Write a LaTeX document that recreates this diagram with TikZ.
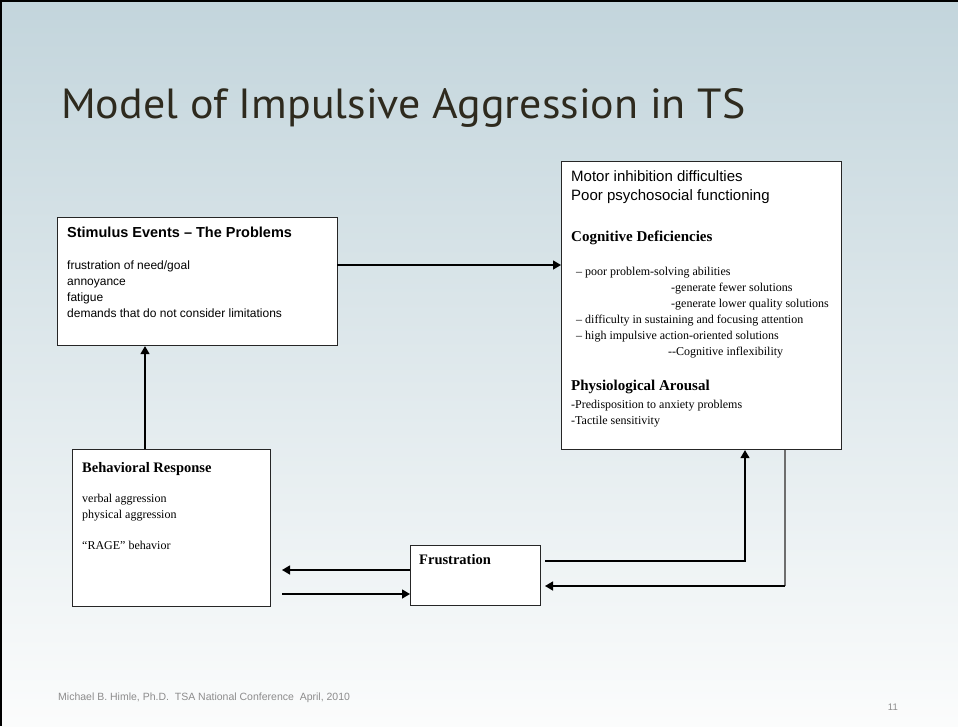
\documentclass[tikz,border=0pt]{standalone}
\usepackage{fontspec}
\setmainfont{Liberation Serif}
\newfontfamily\arialf{Liberation Sans}
\newfontfamily\titlef{PT Sans}
\usetikzlibrary{arrows.meta}
\definecolor{bgtop}{HTML}{C3D5DC}
\definecolor{bgbot}{HTML}{FBFCFC}
\definecolor{titlecol}{HTML}{2E2A1E}
\definecolor{footcol}{HTML}{8C8C8C}
\definecolor{edgegray}{HTML}{6E6E6E}
\tikzset{
  panel/.style={draw=black!85, line width=1.1pt, fill=white, inner sep=0pt, anchor=north west},
  link/.style={line width=1.4pt, draw=black},
  tip/.style={-{Triangle[length=8pt,width=9pt]}},
  txt/.style={anchor=base west, inner sep=0pt, text=black},
  sanshead/.style={txt, font=\arialf\bfseries\fontsize{14.5}{17}\selectfont},
  sansline/.style={txt, font=\arialf\fontsize{12}{14}\selectfont},
  sansbig/.style={txt, font=\arialf\fontsize{15}{18}\selectfont},
  serifhead/.style={txt, font=\bfseries\fontsize{15}{18}\selectfont},
  serifsub/.style={txt, font=\bfseries\fontsize{14.5}{17}\selectfont},
  serifline/.style={txt, font=\fontsize{12}{14}\selectfont},
}
\begin{document}
\begin{tikzpicture}[x=1pt,y=-1pt]
\useasboundingbox (0,0) rectangle (958,726);
% slide background and frame
\shade[top color=bgtop, bottom color=bgbot] (0,0) rectangle (958,726);
\draw[line width=4pt] (0,726) -- (0,0) -- (958,0);

% title
\node[anchor=base west, inner sep=0pt, text=titlecol] (title) at (61,118)
  {\resizebox{684pt}{30pt}{\titlef Model of Impulsive Aggression in TS}};

% boxes
\node[panel, minimum width=280pt, minimum height=128pt] (stim) at (57,217) {};
\node[panel, minimum width=280pt, minimum height=288pt] (deficits) at (561,161) {};
\node[panel, minimum width=198pt, minimum height=157pt] (behav) at (72,449) {};
\node[panel, minimum width=130pt, minimum height=60pt] (frus) at (410,545) {};

% stimulus events
\node[sanshead] (stimT) at (67,237) {Stimulus Events – The Problems};
\node[sansline] (stim1) at (67,269) {frustration of need/goal};
\node[sansline] (stim2) at (67,285) {annoyance};
\node[sansline] (stim3) at (67,301) {fatigue};
\node[sansline] (stim4) at (67,317) {demands that do not consider limitations};

% deficits
\node[sansbig] (def1) at (571,181) {Motor inhibition difficulties};
\node[sansbig] (def2) at (571,200) {Poor psychosocial functioning};
\node[serifhead] (cogT) at (571,241) {Cognitive Deficiencies};
\node[serifline] (cog1) at (576,275) {– poor problem-solving abilities};
\node[serifline] (cog2) at (671,291) {-generate fewer solutions};
\node[serifline] (cog3) at (671,307) {-generate lower quality solutions};
\node[serifline] (cog4) at (576,323) {– difficulty in sustaining and focusing attention};
\node[serifline] (cog5) at (576,339) {– high impulsive action-oriented solutions};
\node[serifline] (cog6) at (668,355) {-{}-Cognitive inflexibility};
\node[serifhead] (physT) at (571,390) {Physiological Arousal};
\node[serifline] (phys1) at (571,408) {-Predisposition to anxiety problems};
\node[serifline] (phys2) at (571,424) {-Tactile sensitivity};

% behavioral response
\node[serifsub] (behT) at (82,472) {Behavioral Response};
\node[serifline] (beh1) at (82,502) {verbal aggression};
\node[serifline] (beh2) at (82,518) {physical aggression};
\node[serifline] (beh3) at (82,549) {“RAGE” behavior};

% frustration
\node[serifsub] (frusT) at (419,564) {Frustration};

% connector anchors
\coordinate (sOut) at (337,265);
\coordinate (upX) at (145,0);
\coordinate (toBeh) at (282,570);
\coordinate (fromBeh) at (282,594);
\coordinate (fOut) at (545,561);
\coordinate (riseX) at (745,0);
\coordinate (fallX) at (785,0);
\coordinate (fIn) at (545,586);

% connectors
\draw[link,tip] (sOut) -- (deficits.west |- sOut);
\draw[link,tip] (behav.north -| upX) -- (stim.south -| upX);
\draw[link,tip] (frus.west |- toBeh) -- (toBeh);
\draw[link,tip] (fromBeh) -- (frus.west |- fromBeh);
\draw[link,tip] (fOut) -| (deficits.south -| riseX);
\draw[line width=1.6pt, draw=edgegray] (deficits.south -| fallX) -- (fallX |- fIn);
\draw[link,tip] (fallX |- fIn) -- (fIn);

% footer
\node[txt, text=footcol, font=\arialf\fontsize{10.5}{12}\selectfont] (foot) at (58,700)
  {Michael B. Himle, Ph.D.\ \ TSA National Conference\ \ April, 2010};
\node[anchor=base east, inner sep=0pt, text=footcol, font=\arialf\fontsize{9.5}{11}\selectfont] (pnum) at (898,710) {11};
\end{tikzpicture}
\end{document}
